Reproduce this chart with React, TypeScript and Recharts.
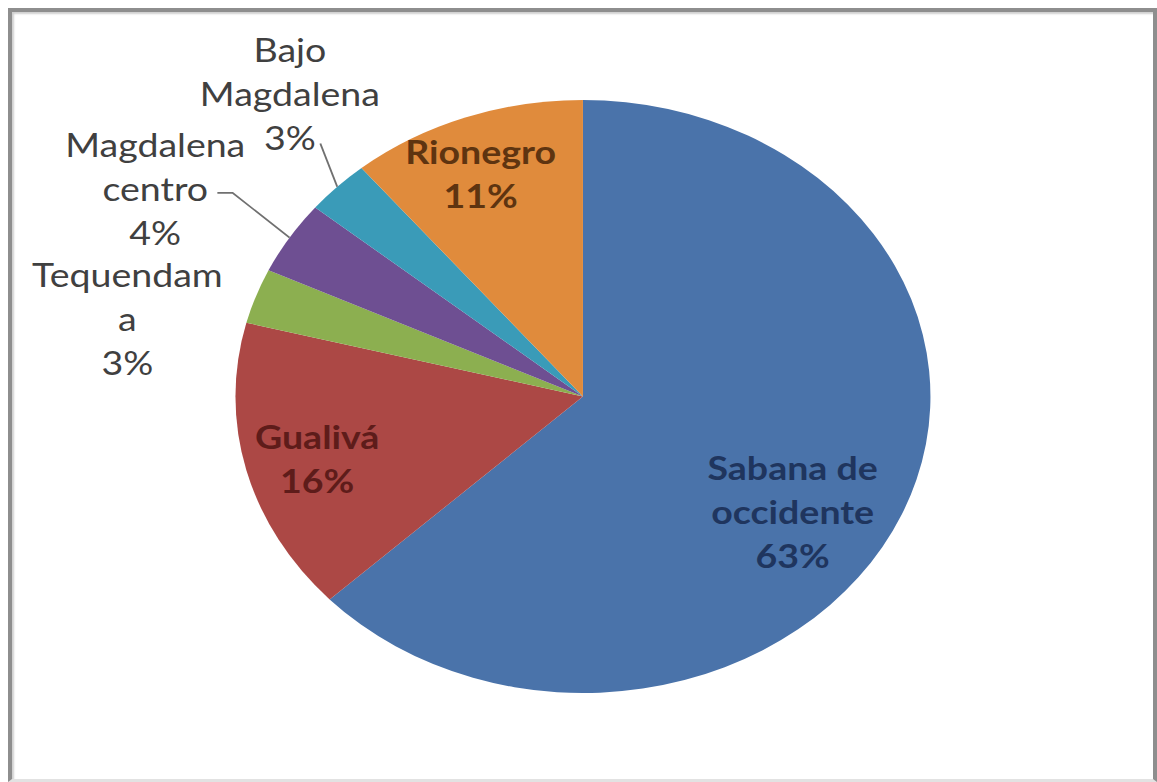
import React from 'react';
import { PieChart, Pie, Cell } from 'recharts';

// regions and their share of the total (%)
const SEGMENTS = ['Sabana de occidente', 'Gualivá', 'Tequendama', 'Magdalena centro', 'Bajo Magdalena', 'Rionegro'];
const SHARES = [63, 16, 3, 4, 3, 11];
const COLORS = ['#4A73AA', '#AC4845', '#8CAF50', '#6E4F92', '#3A9BB8', '#E08B3C'];
// label text wrapped the way the original chart wraps it
const LABEL_LINES = [['Sabana de', 'occidente'], ['Gualivá'], ['Tequendam', 'a'], ['Magdalena', 'centro'], ['Bajo', 'Magdalena'], ['Rionegro']];

const data = SEGMENTS.map((name, i) => ({ name, value: SHARES[i] }));

// the source image is stretched horizontally, so the whole chart is scaled on x
const STRETCH = 1.172;
const W = 987;
const H = 782;
const LINE_H = 44;
const FONT = 'Lato, "Open Sans", sans-serif';

// label placement: k = fraction of radius along the slice's mid angle, then a nudge
const LABEL_LAYOUT: Record<number, any> = {
  0: { k: 0.72, dx: -17, dy: 32, color: '#1f355e', weight: 700 },
  1: { k: 0.8, dx: 3, dy: 4, color: '#5e1c1a', weight: 700 },
  2: { k: 1.25, dx: -40, dy: 49, color: '#404040', weight: 400 },
  3: { k: 1.25, dx: -52, dy: -8, color: '#404040', weight: 400, leader: [[53, 3], [66, 3]] },
  4: { k: 1.25, dx: 12, dy: -40, color: '#404040', weight: 400, leader: [[26, 49]] },
  5: { k: 0.78, dx: -9, dy: -4, color: '#5e3410', weight: 700 },
};

const renderLabel = (props: any) => {
  const { cx, cy, midAngle, outerRadius, index, value } = props;
  const lay = LABEL_LAYOUT[index];
  const rad = (-midAngle * Math.PI) / 180;
  const ux = Math.cos(rad);
  const uy = Math.sin(rad);
  const bx = cx + lay.k * outerRadius * ux + lay.dx;
  const by = cy + lay.k * outerRadius * uy + lay.dy;
  const lines = [...LABEL_LINES[index], `${value}%`];
  const top = by - ((lines.length - 1) * LINE_H) / 2;
  let leader = null;
  if (lay.leader) {
    const pts = lay.leader.map(([ox, oy]: number[]) => `${bx + ox},${by + oy}`);
    pts.push(`${cx + outerRadius * ux},${cy + outerRadius * uy}`);
    leader = <polyline points={pts.join(' ')} fill="none" stroke="#707070" strokeWidth={1.6} />;
  }
  return (
    <g key={`lbl-${index}`}>
      {leader}
      <text textAnchor="middle" fill={lay.color} fontFamily={FONT} fontSize={32} fontWeight={lay.weight}>
        {lines.map((l, i) => (
          <tspan key={i} x={bx} y={top + i * LINE_H} dy="0.35em">
            {l}
          </tspan>
        ))}
      </text>
    </g>
  );
};

export default function App() {
  return (
    <div style={{ position: 'absolute', left: 0, top: 0, width: 1157, height: 782, background: '#fff', overflow: 'hidden' }}>
      <div
        style={{
          position: 'absolute',
          left: 8,
          top: 8,
          width: 1149,
          height: 774,
          boxSizing: 'border-box',
          border: '4px solid #8e8e8e',
          borderBottom: '3px solid #e2e2e2',
          boxShadow: 'inset 2px 2px 2px #d0d0d0',
        }}
      />
      <div style={{ position: 'absolute', left: 0, top: 0, width: W, height: H, transform: `scaleX(${STRETCH})`, transformOrigin: '0 0' }}>
        <PieChart width={W} height={H} margin={{ top: 0, right: 0, bottom: 0, left: 0 }}>
          <Pie
            data={data}
            dataKey="value"
            nameKey="name"
            cx={497.4}
            cy={396.5}
            outerRadius={296.5}
            startAngle={90}
            endAngle={-270}
            stroke="none"
            label={renderLabel}
            labelLine={false}
            isAnimationActive={false}
          >
            {data.map((d, i) => (
              <Cell key={d.name} fill={COLORS[i]} />
            ))}
          </Pie>
        </PieChart>
      </div>
    </div>
  );
}
